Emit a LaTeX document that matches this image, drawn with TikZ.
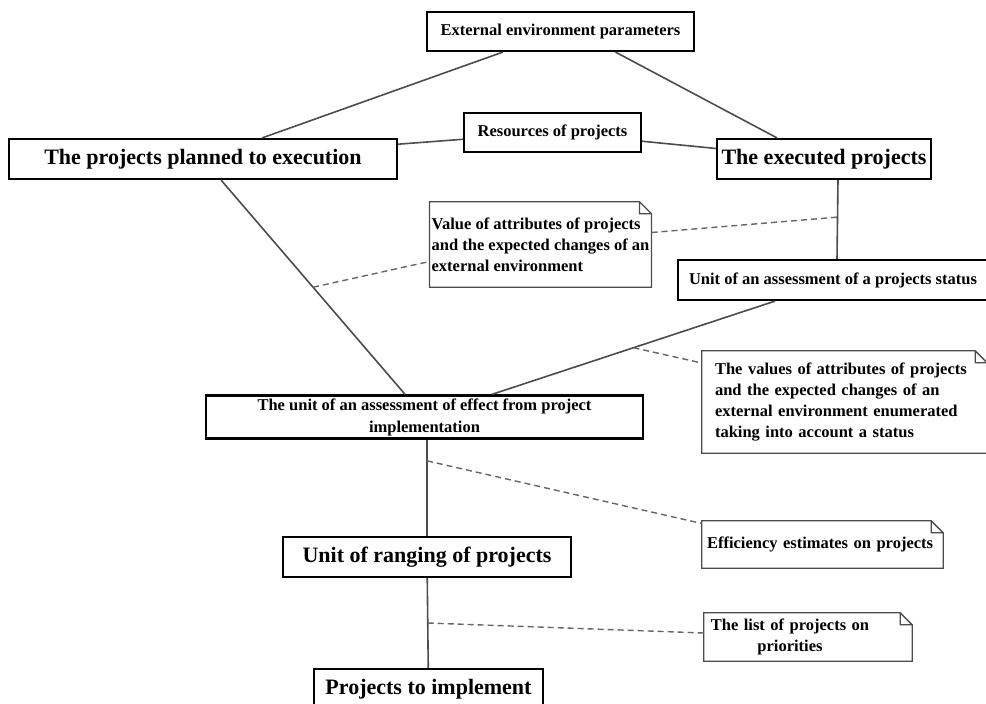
\documentclass[tikz,border=0pt]{standalone}
\usepackage{fontspec}
\setmainfont{Liberation Serif}
\usetikzlibrary{calc}
\def\notefold#1{\draw[notefold] (#1.south west) -- (#1.north west) -- ([xshift=-12pt]#1.north east) -- ([yshift=-12pt]#1.north east) -- (#1.south east) -- cycle ([xshift=-12pt]#1.north east) -- ([xshift=-12pt,yshift=-12pt]#1.north east) -- ([yshift=-12pt]#1.north east);}
\tikzset{
	unitbox/.style={draw=black, line width=2.2pt, fill=white, inner sep=3pt, minimum height=40pt, font=\fontsize{16.5}{22}\selectfont\bfseries},
	bigbox/.style={unitbox, font=\fontsize{22}{26}\selectfont\bfseries},
	notebox/.style={fill=white, inner ysep=3pt, align=left, font=\fontsize{16.5}{21}\selectfont\bfseries},
	notefold/.style={draw=black!70, line width=1.3pt},
	link/.style={draw=black!70, line width=1.6pt},
	hint/.style={draw=black!60, line width=1.4pt, dash pattern=on 6pt off 4pt}
}

\begin{document}
\begin{tikzpicture}[x=1pt, y=-1pt]
			%%%%% START %%%%%
			\useasboundingbox (0,0) rectangle (986,704);
			
			\node[unitbox, minimum width=267pt, minimum height=39pt] (ext) at (560.5, 31.5) {External environment parameters};
			\node[bigbox, minimum width=388pt] (planned) at (203, 159) {The projects planned to execution};
			\node[unitbox, minimum width=177pt, minimum height=39pt] (res) at (552.5, 132.5) {Resources of projects};
			\node[bigbox, minimum width=214pt] (exec) at (824, 159) {The executed projects};
			\node[unitbox, minimum width=310pt] (status) at (833, 280) {Unit of an assessment of a projects status};
			\node[unitbox, minimum width=437pt, align=center] (effect) at (424.5, 417) {The unit of an assessment of effect from project\\implementation};
			\node[bigbox, minimum width=288pt] (ranging) at (427, 557) {Unit of ranging of projects};
			\node[bigbox, minimum width=229pt] (implement) at (428.5, 689) {Projects to implement};
			
			\node[notebox, inner xsep=2pt, minimum width=221pt, minimum height=85pt] (valnote) at (540.5, 244.5) {Value of attributes of projects\\and the expected changes of an\\external environment};
			\node[notebox, inner xsep=13pt, text width=259pt, minimum height=102pt] (statnote) at (844.5, 402) {The values of attributes of projects\\and the expected changes of an\\external environment enumerated\\taking into account a status};
			\node[notebox, inner xsep=5pt, text width=231pt, minimum height=47pt] (effnote) at (822.5, 544.5) {Efficiency estimates on projects};
			\node[notebox, inner xsep=6pt, text width=196pt, minimum height=48pt] (listnote) at (808, 637) {\parbox{160pt}{\centering The list of projects on\\priorities}};
			
			\notefold{valnote}
			\notefold{statnote}
			\notefold{effnote}
			\notefold{listnote}
			
			\draw[link] (ext) -- (planned);
			\draw[link] ([xshift=55pt]ext.south) -- ([xshift=-47pt]exec.north);
			\draw[link] (planned) -- (res);
			\draw[link] (res) -- (exec);
			\draw[link] (planned) -- coordinate[pos=0.5] (p1) (effect);
			\draw[link] ([xshift=14pt]exec.south) -- coordinate[pos=0.47] (p2) ([xshift=4pt]status.north);
			\draw[link] ([xshift=-58pt]status.south) -- coordinate[pos=0.5] (p3) ([xshift=67.5pt]effect.north);
			\draw[link] ([xshift=2.5pt]effect.south) -- coordinate[pos=0.22] (p4) (ranging.north);
			\draw[link] (ranging) -- coordinate[pos=0.5] (p5) (implement);
			
			\draw[hint] (p1) -- ($(valnote.west)+(0,17)$);
			\draw[hint] ($(valnote.east)+(0,-12)$) -- (p2);
			\draw[hint] (p3) -- ($(statnote.west)+(0,-39)$);
			\draw[hint] (p4) -- ($(effnote.west)+(0,-21)$);
			\draw[hint] (p5) -- ($(listnote.west)+(0,-4)$);
			
			%%%%% END %%%%%
\end{tikzpicture}
\end{document}
